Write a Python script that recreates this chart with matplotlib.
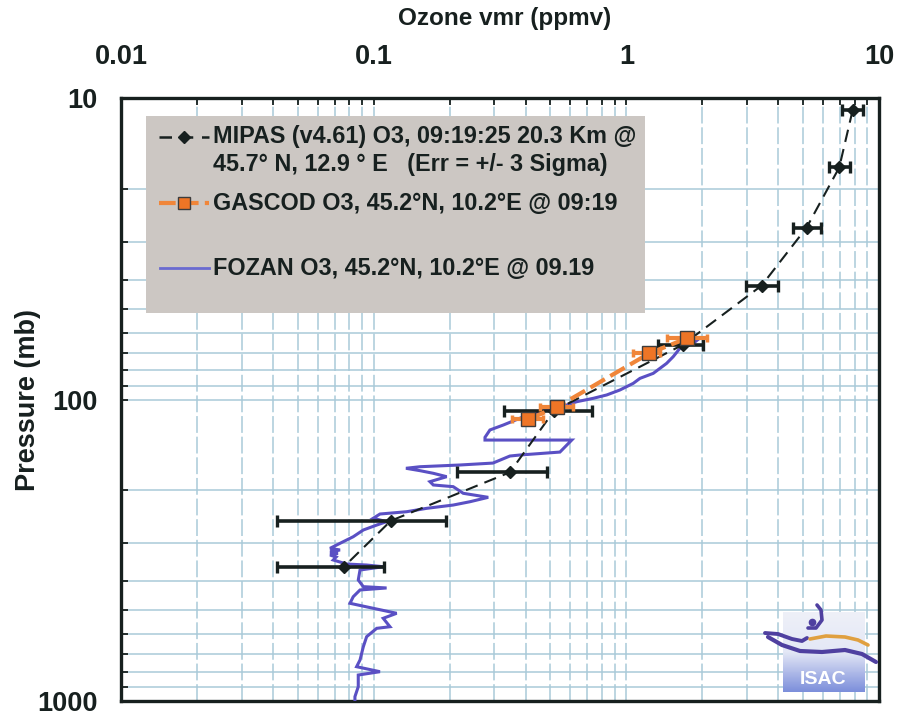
import matplotlib
matplotlib.use("Agg")
import matplotlib.pyplot as plt
import numpy as np
from matplotlib.lines import Line2D
from matplotlib.patches import Rectangle
from matplotlib.ticker import LogLocator, NullFormatter

plt.rcParams['font.family'] = ['Liberation Sans', 'DejaVu Sans']
plt.rcParams['font.weight'] = 'bold'

# ---------------- data ----------------
x_ticks = [0.01, 0.1, 1, 10]
x_tick_labels = ['0.01', '0.1', '1', '10']
y_ticks = [10, 100, 1000]
y_tick_labels = ['10', '100', '1000']

mipas_p = [11.0, 17.0, 26.9, 41.9, 65.9, 108.9, 174.4, 252.4, 358.5]
mipas_o3 = [7.86, 6.96, 5.17, 3.43, 1.67, 0.518, 0.346, 0.117, 0.0763]
mipas_lo = [7.11, 6.34, 4.58, 2.97, 1.34, 0.329, 0.214, 0.0413, 0.0413]
mipas_hi = [8.66, 7.67, 5.87, 3.97, 2.02, 0.729, 0.484, 0.193, 0.110]

gascod_p = [62.7, 70.3, 106.1, 116.3]
gascod_o3 = [1.733, 1.232, 0.530, 0.409]
gascod_lo = [1.443, 1.065, 0.455, 0.352]
gascod_hi = [2.078, 1.358, 0.615, 0.469]

fozan_o3 = [1.956, 1.840, 1.630, 1.533, 1.443, 1.278, 1.132, 1.065, 0.943, 0.836,
            0.740, 0.636, 0.546, 0.484, 0.428, 0.379, 0.326, 0.2885, 0.2758, 0.2758,
            0.608, 0.546, 0.379, 0.346, 0.2965, 0.2196, 0.1525, 0.1342, 0.1525, 0.1722,
            0.1945, 0.167, 0.1722, 0.2065, 0.2262, 0.2841, 0.2405, 0.2065, 0.1621, 0.1351,
            0.1059, 0.0996, 0.1125, 0.1028, 0.0910, 0.0830, 0.0736, 0.0672, 0.0736, 0.0672,
            0.0722, 0.0672, 0.0710, 0.0692,
            0.0782, 0.0938, 0.1091, 0.0883, 0.0869, 0.0910, 0.1125, 0.0883, 0.0830, 0.0806,
            0.0996, 0.1233, 0.1091, 0.1160, 0.1028, 0.0938, 0.0910, 0.0883, 0.0856, 0.1059,
            0.0869, 0.0869, 0.0843, 0.0843]
fozan_p = [62.5, 65.1, 67.6, 72.1, 75.9, 81.9, 85.1, 88.4, 93.0, 96.6,
           99.1, 101.7, 106.1, 108.3, 111.1, 115.4, 121.5, 126.2, 133.5, 136.3,
           136.3, 149.4, 152.8, 154.0, 162.5, 164.9, 167.1, 169.1, 172.2, 175.7,
           180.3, 187.3, 192.1, 194.6, 204.7, 211.1, 218.3, 223.9, 229.6, 235.6,
           239.8, 247.7, 254.2, 260.9, 270.9, 285.2, 299.9, 311.6, 315.6, 320.5,
           324.0, 328.0, 333.1, 340.7,
           351.3, 354.0, 358.6, 367.8, 396.8, 417.6, 421.8, 428.3, 451.0, 474.2,
           492.6, 511.8, 531.7, 567.1, 574.1, 611.9, 660.7, 731.1, 769.5, 799.5,
           820.0, 896.6, 967.6, 1000]

legend_labels = ['MIPAS (v4.61) O3, 09:19:25 20.3 Km @',
                 '45.7\u00b0 N, 12.9 \u00b0 E   (Err = +/- 3 Sigma)',
                 'GASCOD O3, 45.2\u00b0N, 10.2\u00b0E @ 09:19',
                 'FOZAN O3, 45.2\u00b0N, 10.2\u00b0E @ 09.19']

# ---------------- style ----------------
C_BLACK = '#17201f'
C_ORANGE = '#f0863a'
C_ORANGE_M = '#ee7526'
C_BLUE = '#5a50c4'
C_GRID = '#a9cad8'
C_LEG = '#ccc7c3'

fig = plt.figure(figsize=(8.97, 7.17), dpi=100)
W, H = 897, 717
L, R, T, B = 121, 879, 98, 701
ax = fig.add_axes([L / W, 1 - B / H, (R - L) / W, (B - T) / H])
ax.set_xscale('log')
ax.set_yscale('log')
ax.set_xlim(0.01, 10)
ax.set_ylim(1000, 10)

ax.set_xticks(x_ticks, x_tick_labels)
ax.set_yticks(y_ticks, y_tick_labels)
ax.xaxis.set_minor_locator(LogLocator(base=10, subs=np.arange(2, 10)))
ax.yaxis.set_minor_locator(LogLocator(base=10, subs=np.arange(2, 10)))
ax.xaxis.set_minor_formatter(NullFormatter())
ax.yaxis.set_minor_formatter(NullFormatter())

ax.xaxis.tick_top()
ax.tick_params(axis='x', which='both', top=True, bottom=False, labeltop=True,
               labelbottom=False, direction='in', length=5, width=1.3, color=C_BLACK)
ax.tick_params(axis='y', which='both', left=True, right=False, direction='in',
               length=5, width=1.3, color=C_BLACK)
ax.tick_params(axis='x', which='major', labelsize=19.5, pad=20, labelcolor=C_BLACK)
ax.tick_params(axis='y', which='major', labelsize=19.5, pad=17, labelcolor=C_BLACK)
for lab in ax.get_xticklabels() + ax.get_yticklabels():
    lab.set_fontweight('bold')

ax.xaxis.grid(True, which='both', color=C_GRID, lw=1.1, linestyle=(0, (11, 2.5)))
ax.yaxis.grid(True, which='both', color=C_GRID, lw=1.1, linestyle='-')
ax.set_axisbelow(True)

for s in ax.spines.values():
    s.set_linewidth(2.4)
    s.set_color(C_BLACK)

ax.set_xlabel('Ozone vmr (ppmv)', fontsize=17.5, fontweight='bold', color=C_BLACK)
ax.xaxis.set_label_position('top')
ax.xaxis.set_label_coords((505 - L) / (R - L), 1 + (T - 19) / (B - T))
ax.xaxis.label.set_va('center')
ax.set_ylabel('Pressure (mb)', fontsize=19.5, fontweight='bold', color=C_BLACK)
ax.yaxis.set_label_coords((28 - L) / (R - L), 1 - (400 - T) / (B - T))
ax.yaxis.label.set_va('center')

# FOZAN
ax.plot(fozan_o3, fozan_p, color=C_BLUE, lw=2.2, zorder=3, solid_joinstyle='miter')

# MIPAS
m_o3 = np.array(mipas_o3)
xerr_m = [m_o3 - np.array(mipas_lo), np.array(mipas_hi) - m_o3]
ax.errorbar(mipas_o3, mipas_p, xerr=xerr_m, fmt='none', ecolor=C_BLACK,
            elinewidth=2.6, capsize=4.5, capthick=2.4, zorder=4)
ax.plot(mipas_o3, mipas_p, color=C_BLACK, lw=1.5, linestyle=(0, (6, 3.5)),
        marker='D', ms=6.5, mfc=C_BLACK, mec=C_BLACK, zorder=5)

# GASCOD
g_o3 = np.array(gascod_o3)
xerr_g = [g_o3 - np.array(gascod_lo), np.array(gascod_hi) - g_o3]
ax.errorbar(gascod_o3, gascod_p, xerr=xerr_g, fmt='none', ecolor=C_ORANGE,
            elinewidth=3, capsize=3, capthick=2.5, zorder=6)
ax.plot(gascod_o3, gascod_p, color=C_ORANGE, lw=3, linestyle=(0, (4, 1.5)),
        marker='s', ms=10, mfc=C_ORANGE_M, mec='#3c3c3c', mew=1.0, zorder=7)

# ---------------- legend box (drawn) ----------------
def fx(px):
    return (px - L) / (R - L)

def fy(py):
    return 1 - (py - T) / (B - T)

ax.add_patch(Rectangle((fx(146), fy(313)), fx(645) - fx(146), fy(116) - fy(313),
                       transform=ax.transAxes, facecolor=C_LEG, edgecolor='none',
                       zorder=10))
tx = fx(213)
LFS = 16.8
for lab, py in zip(legend_labels, [137, 165, 203, 268]):
    ax.text(tx, fy(py), lab, transform=ax.transAxes, fontsize=LFS,
            fontweight='bold', va='center', ha='left', color=C_BLACK, zorder=11)

ax.add_line(Line2D([fx(159), fx(209)], [fy(137), fy(137)], transform=ax.transAxes,
                   color=C_BLACK, lw=1.8, linestyle=(0, (5, 3.5)), zorder=11))
ax.add_line(Line2D([fx(184)], [fy(137)], transform=ax.transAxes, marker='D', ms=6.5,
                   color=C_BLACK, zorder=12))
ax.add_line(Line2D([fx(159), fx(209)], [fy(203), fy(203)], transform=ax.transAxes,
                   color=C_ORANGE, lw=3, linestyle=(0, (4, 1.5)), zorder=11))
ax.add_line(Line2D([fx(184)], [fy(203)], transform=ax.transAxes, marker='s', ms=9,
                   mfc=C_ORANGE_M, mec='#3c3c3c', mew=1.0, zorder=12))
ax.add_line(Line2D([fx(160), fx(209)], [fy(268), fy(268)], transform=ax.transAxes,
                   color='#6a6ad0', lw=2, zorder=11))

# ---------------- ISAC logo (decoration) ----------------
lx0, lx1, ly0, ly1 = 755, 880, 597, 697
lax = fig.add_axes([lx0 / W, 1 - ly1 / H, (lx1 - lx0) / W, (ly1 - ly0) / H])
lax.set_xlim(lx0, lx1)
lax.set_ylim(ly1, ly0)
lax.axis('off')
grad = np.linspace(0, 1, 64).reshape(-1, 1)
cmap = matplotlib.colors.LinearSegmentedColormap.from_list('g', ['#eef0f8', '#e4e8f6', '#7d8fdb'])
lax.imshow(grad, extent=(783, 864, 692, 612), cmap=cmap, aspect='auto', zorder=1)
lax.text(823.5, 679, 'ISAC', ha='center', va='center', fontsize=14, fontweight='bold',
         color='white', zorder=3)
lax.plot([765, 778, 792, 802, 807], [633, 634, 639, 641, 638], color='#4f40a0',
         lw=2.8, solid_capstyle='round', zorder=2)
lax.plot([768, 782, 800, 822, 845, 862, 876], [637, 645, 651, 652, 650, 654, 662],
         color='#4f40a0', lw=3.0, solid_capstyle='round', zorder=2)
lax.plot([810, 826, 845, 858, 868], [639, 636, 637, 640, 645], color='#e0a040',
         lw=2.6, solid_capstyle='round', zorder=2)
lax.plot([808, 816, 822, 821, 817], [628, 628, 620, 610, 605], color='#4f40a0',
         lw=2.6, solid_capstyle='round', zorder=2)
lax.plot([812], [622], marker='o', ms=4.5, color='#4f40a0', zorder=2)

fig.savefig('out.png', dpi=100, facecolor='white')
